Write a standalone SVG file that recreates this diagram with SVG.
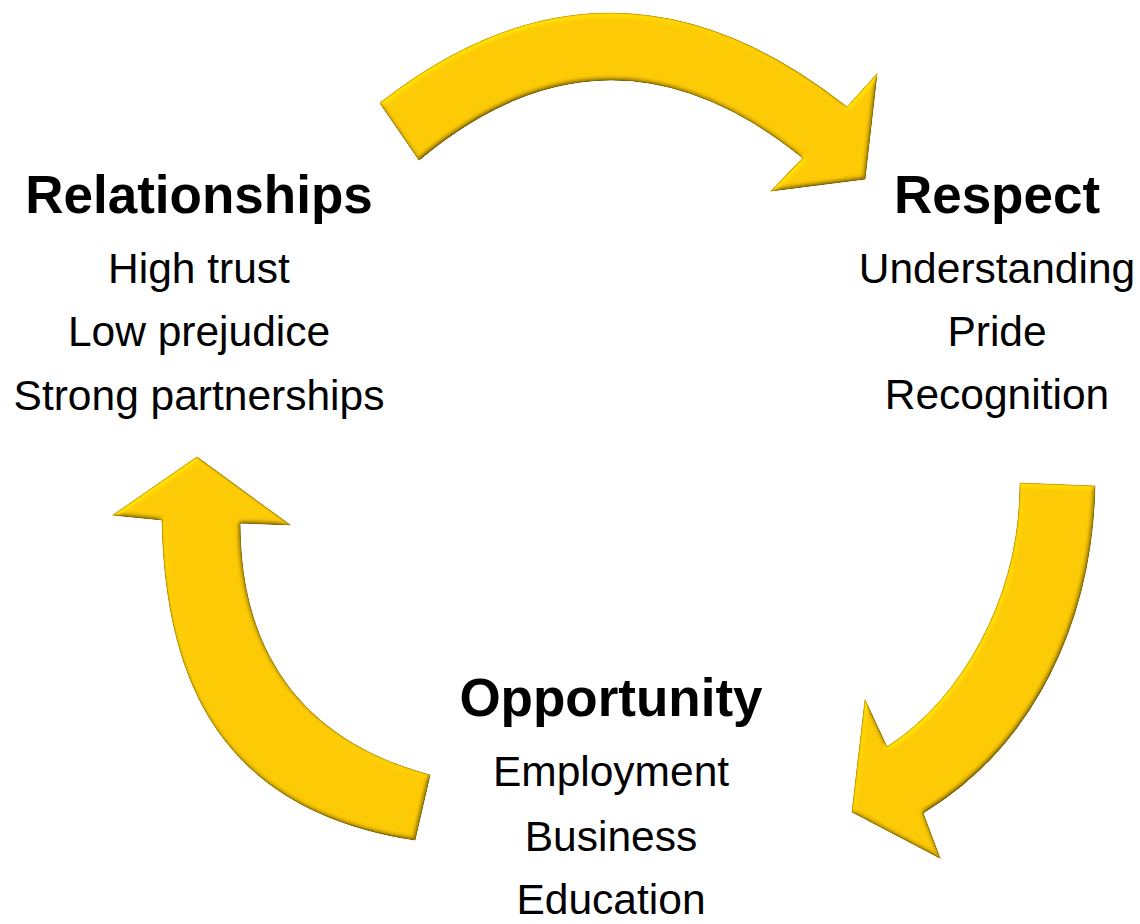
<svg xmlns="http://www.w3.org/2000/svg" width="1140" height="924" viewBox="0 0 1140 924">
  <defs>
    <style>
      .head { font-family: "Liberation Sans", Arial, sans-serif; font-weight: bold; font-size: 53px; fill: #000; text-anchor: middle; }
      .item { font-family: "Liberation Sans", Arial, sans-serif; font-size: 42.5px; fill: #000; text-anchor: middle; }
      .arrow { fill: #FECB06; stroke: #C9A200; stroke-width: 1.1; stroke-linejoin: miter; filter: url(#bevel); }
    </style>
    <!-- soft embossed edge for the gold arrows -->
    <filter id="bevel" x="-5%" y="-5%" width="110%" height="110%" color-interpolation-filters="sRGB">
      <feGaussianBlur in="SourceAlpha" stdDeviation="2.5" result="blur"/>
      <feDiffuseLighting in="blur" surfaceScale="2.2" diffuseConstant="1" lighting-color="#ffffff" result="light">
        <feDistantLight azimuth="235" elevation="65"/>
      </feDiffuseLighting>
      <feComposite in="SourceGraphic" in2="light" operator="arithmetic" k1="1.1" k2="0" k3="0" k4="0" result="shaded"/>
      <feComposite in="shaded" in2="SourceAlpha" operator="in"/>
    </filter>
  </defs>

  <rect width="1140" height="924" fill="#ffffff"/>

  <!-- cycle arrows -->
  <g id="connectors">
    <path id="arrow-top" class="arrow"
          d="M380,103 Q612,-79 847,107 L877,74 L865,179 L771,191 L803,158 Q609,1 419,160 Z"/>
    <path id="arrow-right" class="arrow"
          d="M1020,483 L1095,486 C1092,620 1035,745 923,813 L940,858 L852,812 L865,700 L887,747 C960,700 1020,600 1020,483 Z"/>
    <path id="arrow-left" class="arrow"
          d="M430,775 C300,740 240,650 240,523 L290,525 L197,457 L113,515 L162,520 C165,680 220,810 415,840 Z"/>
  </g>

  <g id="node-relationships">
    <text class="head" x="199" y="213">Relationships</text>
    <text class="item" x="199" y="283">High trust</text>
    <text class="item" x="199" y="346">Low prejudice</text>
    <text class="item" x="199" y="410">Strong partnerships</text>
  </g>

  <g id="node-respect">
    <text class="head" x="997" y="213">Respect</text>
    <text class="item" x="997" y="283">Understanding</text>
    <text class="item" x="997" y="346">Pride</text>
    <text class="item" x="997" y="409">Recognition</text>
  </g>

  <g id="node-opportunity">
    <text class="head" x="611" y="716">Opportunity</text>
    <text class="item" x="611" y="786">Employment</text>
    <text class="item" x="611" y="851">Business</text>
    <text class="item" x="611" y="914">Education</text>
  </g>
</svg>
